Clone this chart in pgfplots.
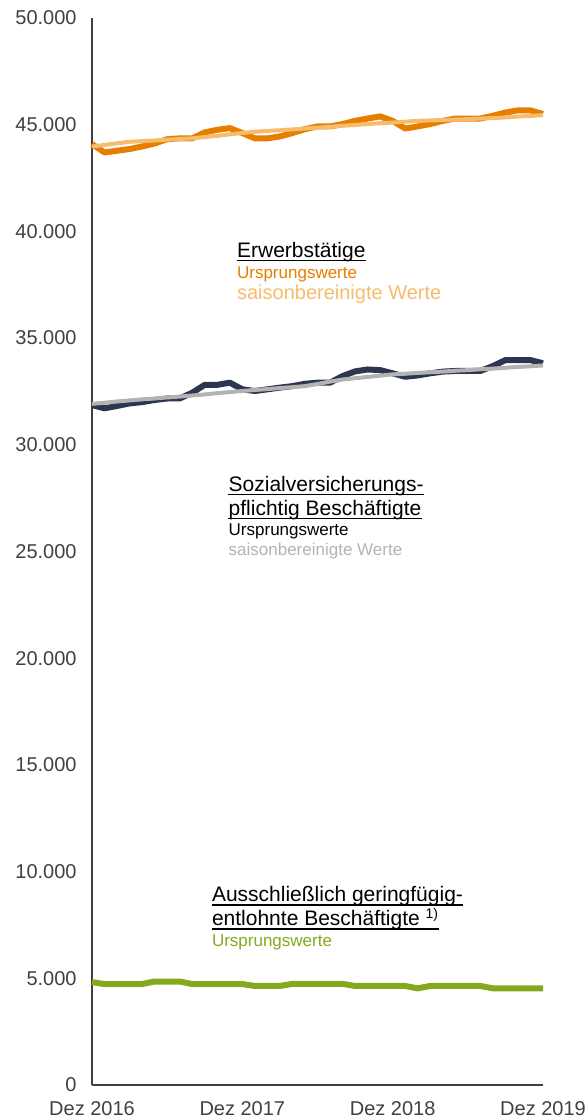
\documentclass[border=0pt]{standalone}
\usepackage{pgfplots}
\pgfplotsset{compat=1.18}
\usepackage{fontspec}
\setmainfont{Liberation Sans}
\definecolor{orDark}{HTML}{E67E00}
\definecolor{orLight}{HTML}{F7BB6C}
\definecolor{navy}{HTML}{2C3651}
\definecolor{lgray}{HTML}{B3B3B3}
\definecolor{green}{HTML}{83AA1F}
\definecolor{axgray}{HTML}{404040}

% Erwerbstaetige, Ursprungswerte (Tsd.)
\pgfplotstableread{
m v
0 44090
1 43700
2 43780
3 43860
4 43980
5 44120
6 44320
7 44360
8 44360
9 44640
10 44760
11 44840
12 44610
13 44360
14 44360
15 44450
16 44610
17 44790
18 44920
19 44920
20 45030
21 45180
22 45290
23 45390
24 45180
25 44820
26 44920
27 45030
28 45180
29 45290
30 45290
31 45290
32 45420
33 45570
34 45670
35 45670
36 45500
}\ewU
% Erwerbstaetige, saisonbereinigt
\pgfplotstableread{
m v
0 43980
1 44050
2 44130
3 44200
4 44230
5 44260
6 44300
7 44330
8 44360
9 44420
10 44480
11 44550
12 44610
13 44670
14 44710
15 44740
16 44780
17 44820
18 44860
19 44900
20 44950
21 44990
22 45030
23 45070
24 45100
25 45140
26 45180
27 45200
28 45220
29 45240
30 45260
31 45290
32 45310
33 45340
34 45380
35 45410
36 45450
}\ewS
% SV-Beschaeftigte, Ursprungswerte
\pgfplotstableread{
m v
0 31860
1 31710
2 31820
3 31940
4 32000
5 32100
6 32170
7 32170
8 32440
9 32810
10 32810
11 32910
12 32600
13 32520
14 32600
15 32680
16 32750
17 32860
18 32910
19 32910
20 33220
21 33440
22 33530
23 33500
24 33350
25 33190
26 33250
27 33350
28 33430
29 33460
30 33460
31 33460
32 33690
33 33970
34 33970
35 33970
36 33820
}\svU
% SV-Beschaeftigte, saisonbereinigt
\pgfplotstableread{
m v
0 31920
1 31970
2 32030
3 32080
4 32130
5 32170
6 32220
7 32260
8 32310
9 32360
10 32420
11 32470
12 32520
13 32570
14 32610
15 32660
16 32700
17 32750
18 32850
19 32960
20 33060
21 33120
22 33180
23 33240
24 33300
25 33330
26 33370
27 33400
28 33430
29 33470
30 33500
31 33540
32 33570
33 33610
34 33650
35 33680
36 33720
}\svS
% ausschl. geringfuegig entlohnte Beschaeftigte
\pgfplotstableread{
m v
0 4820
1 4730
2 4730
3 4730
4 4730
5 4850
6 4850
7 4850
8 4730
9 4730
10 4730
11 4730
12 4730
13 4640
14 4640
15 4640
16 4740
17 4740
18 4740
19 4740
20 4740
21 4640
22 4640
23 4640
24 4640
25 4640
26 4530
27 4640
28 4640
29 4640
30 4640
31 4640
32 4530
33 4530
34 4530
35 4530
36 4530
}\geU

\begin{document}
\begin{tikzpicture}[
  ttl/.style={anchor=base west, inner sep=0pt, font=\fontsize{10.5}{12}\selectfont},
  sub/.style={anchor=base west, inner sep=0pt, font=\fontsize{8.5}{10}\selectfont},
]
\useasboundingbox (-46pt,-17.5pt) rectangle (248pt,542.5pt);
\begin{axis}[
  at={(0,0)}, anchor=south west,
  scale only axis, width=225.5pt, height=533.5pt,
  xmin=0, xmax=36, ymin=0, ymax=50000,
  axis x line=bottom, axis y line=left,
  axis line style={draw=axgray, line width=0.8pt, -},
  xtick={0,12,24,36},
  xticklabels={Dez 2016, Dez 2017, Dez 2018, Dez 2019},
  ytick={0,5000,...,50000},
  scaled y ticks=false,
  major tick length=0pt,
  /pgf/number format/1000 sep={.},
  /pgf/number format/assume math mode=true,
  tick label style={font=\fontsize{10}{11}\selectfont, text=axgray, inner sep=0pt},
  yticklabel style={anchor=east, xshift=-7.5pt},
  xticklabel style={anchor=north, yshift=-8pt},
  clip=false,
  every axis plot/.append style={line join=round, no marks},
]
\addplot[orDark, line width=3pt] table[x=m, y=v] {\ewU};
\addplot[orLight, line width=2pt] table[x=m, y=v] {\ewS};
\addplot[navy, line width=3pt] table[x=m, y=v] {\svU};
\addplot[lgray, line width=2pt] table[x=m, y=v] {\svS};
\addplot[green, line width=3pt] table[x=m, y=v] {\geU};

\node[ttl] (t1) at (axis cs:11.55,38800) {Erwerbstätige};
\node[sub, text=orDark] at (axis cs:11.55,37800) {Ursprungswerte};
\node[sub, font=\fontsize{10}{11}\selectfont, text=orLight] at (axis cs:11.55,36815) {saisonbereinigte Werte};

\node[ttl] (t2) at (axis cs:10.88,27812) {Sozialversicherungs-};
\node[ttl] (t3) at (axis cs:10.88,26686) {pflichtig Beschäftigte};
\node[sub] at (axis cs:10.88,25748) {Ursprungswerte};
\node[sub, text=lgray] at (axis cs:10.88,24810) {saisonbereinigte Werte};

\node[ttl] (t4) at (axis cs:9.55,8583) {Ausschließlich geringfügig-};
\node[ttl] (t5) at (axis cs:9.55,7457) {entlohnte Beschäftigte {\fontsize{7}{8}\selectfont\raisebox{3.5pt}{1)}}};
\node[sub, text=green] at (axis cs:9.55,6472) {Ursprungswerte};
\end{axis}
\foreach \n in {t1,t2,t3,t4,t5}
  \draw[black, line width=0.7pt] ([yshift=-1.6pt]\n.base west) -- ([yshift=-1.6pt]\n.base east);
\end{tikzpicture}
\end{document}
